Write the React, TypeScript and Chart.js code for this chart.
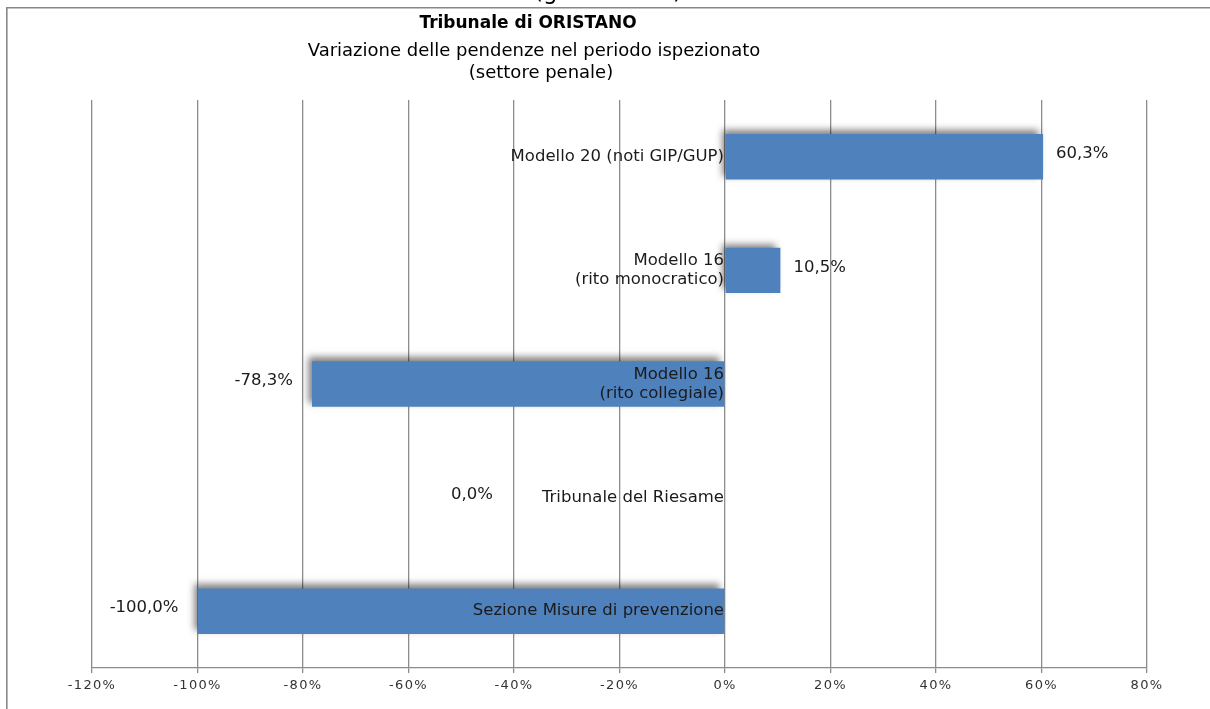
import React, { useEffect, useRef } from 'react';
import { Chart, registerables } from 'chart.js';

Chart.register(...registerables);

const categories: string[][] = [
  ['Modello 20 (noti GIP/GUP)'],
  ['Modello 16', '(rito monocratico)'],
  ['Modello 16', '(rito collegiale)'],
  ['Tribunale del Riesame'],
  ['Sezione Misure di prevenzione'],
];
const values: number[] = [60.3, 10.5, -78.3, 0.0, -100.0];
const axisMin = -120;
const axisMax = 80;
const axisStep = 20;
const clippedHeader = '(giorni medi)';
const titleText = 'Tribunale di ORISTANO';
const subtitleLines = ['Variazione delle pendenze nel periodo ispezionato', '(settore penale)'];

const FONT = '"DejaVu Sans", Verdana, sans-serif';
const GRID = '#8c8c8c';
const BAR = '#4F81BD';

const fmt = (v: number) => v.toFixed(1).replace('.', ',') + '%';

const decorPlugin = {
  id: 'decor',
  beforeDraw(chart: any) {
    (chart.ctx as any).letterSpacing = '1.3px';
  },
  beforeDatasetsDraw(chart: any) {
    (chart.ctx as any).letterSpacing = '0px';
  },
  beforeDatasetDraw(chart: any) {
    const ctx = chart.ctx;
    ctx.save();
    ctx.shadowColor = 'rgba(0,0,0,0.5)';
    ctx.shadowBlur = 7;
    ctx.shadowOffsetX = -4;
    ctx.shadowOffsetY = -4;
  },
  afterDatasetDraw(chart: any) {
    chart.ctx.restore();
  },
  afterDatasetsDraw(chart: any) {
    const ctx = chart.ctx;
    const xs = chart.scales.x;
    const x0 = xs.getPixelForValue(0);
    const meta = chart.getDatasetMeta(0);
    ctx.save();
    (ctx as any).letterSpacing = '0px';
    ctx.fillStyle = '#1a1a1a';
    ctx.font = `16.5px ${FONT}`;
    ctx.textBaseline = 'middle';
    meta.data.forEach((bar: any, i: number) => {
      const y = bar.y;
      const lines = categories[i];
      const lh = 19;
      ctx.textAlign = 'right';
      lines.forEach((ln, k) => {
        ctx.fillText(ln, x0 - 1, y + (k - (lines.length - 1) / 2) * lh);
      });
      const v = values[i];
      const ly = y - 3;
      if (v > 0) {
        ctx.textAlign = 'left';
        ctx.fillText(fmt(v), bar.x + 13, ly);
      } else if (v < 0) {
        ctx.textAlign = 'right';
        ctx.fillText(fmt(v), bar.x - 19, ly);
      } else {
        ctx.textAlign = 'right';
        ctx.fillText(fmt(v), xs.getPixelForValue(-44), ly);
      }
    });
    ctx.restore();
  },
  afterDraw(chart: any) {
    const ctx = chart.ctx;
    ctx.save();
    (ctx as any).letterSpacing = '0px';
    // frame
    ctx.strokeStyle = '#888888';
    ctx.lineWidth = 1.6;
    ctx.beginPath();
    ctx.moveTo(6.8, 720);
    ctx.lineTo(6.8, 7.8);
    ctx.lineTo(1220, 7.8);
    ctx.stroke();
    // clipped header above frame
    ctx.fillStyle = '#000';
    ctx.textAlign = 'center';
    ctx.textBaseline = 'alphabetic';
    ctx.font = `23px ${FONT}`;
    ctx.fillText(clippedHeader, 608, -1);
    // title
    ctx.font = `bold 17px ${FONT}`;
    ctx.fillText(titleText, 528, 28);
    ctx.font = `18px ${FONT}`;
    ctx.fillText(subtitleLines[0], 534, 56);
    ctx.fillText(subtitleLines[1], 541, 78);
    ctx.restore();
  },
};

export default function App() {
  const ref = useRef<HTMLCanvasElement | null>(null);
  useEffect(() => {
    if (!ref.current) return;
    const chart = new Chart(ref.current, {
      type: 'bar',
      data: {
        labels: categories,
        datasets: [
          {
            data: values,
            backgroundColor: BAR,
            borderWidth: 0,
            categoryPercentage: 0.4,
            barPercentage: 1,
          },
        ],
      },
      options: {
        indexAxis: 'y',
        responsive: false,
        animation: false,
        events: [],
        layout: { padding: { left: 92, right: 63, top: 100, bottom: 0 } },
        plugins: {
          legend: { display: false },
          title: { display: false },
          tooltip: { enabled: false },
        },
        scales: {
          x: {
            type: 'linear',
            min: axisMin,
            max: axisMax,
            afterFit: (s: any) => {
              s.height = 41;
            },
            ticks: {
              stepSize: axisStep,
              callback: (v: any) => `${v}%`,
              font: { family: FONT, size: 13 },
              color: '#333333',
              padding: 5,
              maxRotation: 0,
            },
            grid: {
              color: GRID,
              lineWidth: 1.3,
              drawTicks: true,
              tickLength: 5,
            },
            border: { display: true, color: GRID, width: 1.3 },
          },
          y: {
            type: 'category',
            display: false,
            grid: { display: false },
          },
        },
      },
      plugins: [decorPlugin],
    });
    return () => chart.destroy();
  }, []);
  return (
    <div style={{ position: 'fixed', left: 0, top: 0, width: 1210, height: 709, background: '#fff' }}>
      <canvas ref={ref} width={1210} height={709} style={{ display: 'block' }} />
    </div>
  );
}
